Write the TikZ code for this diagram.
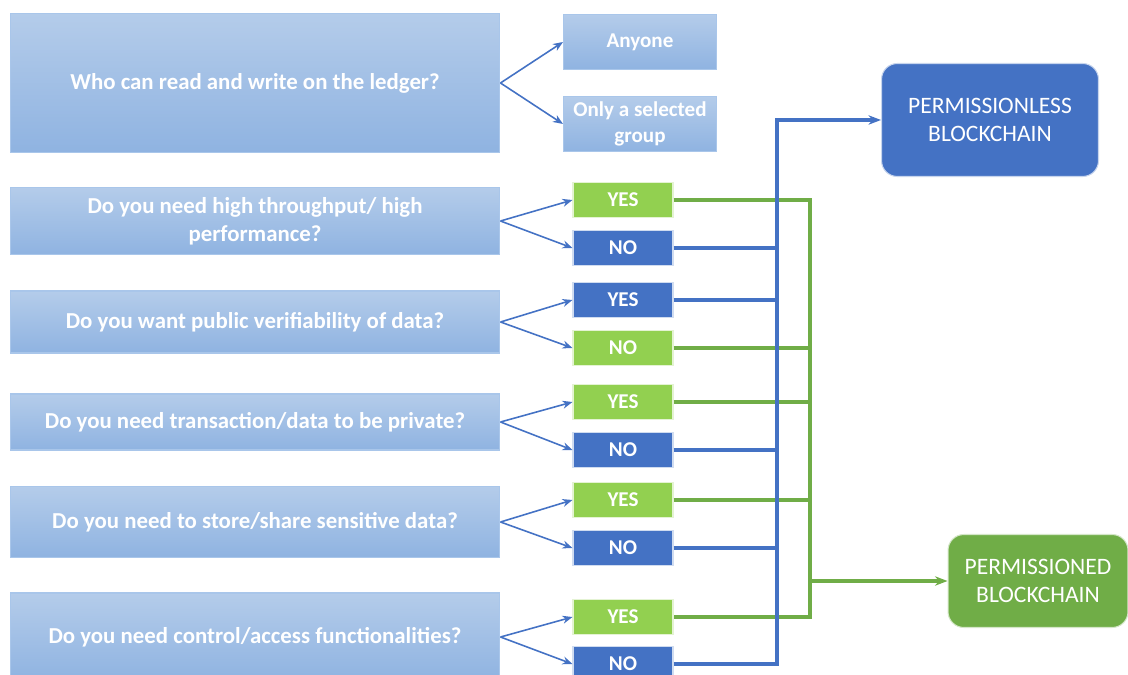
\documentclass[tikz,border=0pt]{standalone}
\usepackage{fontspec}
\setmainfont{Carlito}
\usetikzlibrary{arrows.meta, calc}
\definecolor{qtop}{HTML}{B4CCEA}
\definecolor{qbot}{HTML}{8FB3E1}
\definecolor{qedge}{HTML}{A9C6EA}
\definecolor{cblue}{HTML}{4472C4}
\definecolor{cgreen}{HTML}{70AD47}
\definecolor{clime}{HTML}{92D050}
\tikzset{
  every picture/.style={font=\fontsize{12}{14}\selectfont},
  qbox/.style={draw=qedge, line width=0.6pt, top color=qtop, bottom color=qbot, text=white, font=\bfseries\fontsize{13}{16}\selectfont, align=center, minimum width=9.8cm},
  abox/.style={qbox, font=\bfseries\fontsize{12}{14.5}\selectfont, minimum width=3.06cm, minimum height=1.1cm, inner sep=1pt},
  yn/.style={draw=white!75!#1, line width=0.6pt, fill=#1, text=white, font=\bfseries\fontsize{12}{14}\selectfont, minimum width=2cm, minimum height=0.7cm, inner sep=0pt},
  res/.style={fill=#1, draw=white!70!#1, line width=0.6pt, rounded corners=9pt, text=white, align=center, font=\fontsize{13.4}{16}\selectfont},
  arrow/.style={-{Stealth[length=2mm, width=1.6mm]}, draw=cblue, line width=0.9pt},
  bus/.style={draw=#1, line width=2pt},
}
\begin{document}
\begin{tikzpicture}[x=0.02cm, y=-0.02cm]
  \useasboundingbox (0,0) rectangle (1128,675);
  \clip (0,0) rectangle (1128,675);
  % questions
  \node[qbox, minimum height=2.78cm] (q1) at (255,83) {Who can read and write on the ledger?};
  \node[qbox, minimum height=1.34cm] (q2) at (255,221) {Do you need high throughput/ high\\performance?};
  \node[qbox, minimum height=1.24cm] (q3) at (255,322) {Do you want public verifiability of data?};
  \node[qbox, minimum height=1.12cm] (q4) at (255,422) {Do you need transaction/data to be private?};
  \node[qbox, minimum height=1.42cm] (q5) at (255,522) {Do you need to store/share sensitive data?};
  \node[qbox, minimum height=1.76cm] (q6) at (255,637) {Do you need control/access functionalities?};
  % answers
  \node[abox] (any) at (640,42) {Anyone};
  \node[abox, align=center] (grp) at (640,124) {Only a selected\\group};
  \node[yn=clime] (y2) at (623,200) {YES};
  \node[yn=cblue] (n2) at (623,248) {NO};
  \node[yn=cblue] (y3) at (623,300) {YES};
  \node[yn=clime] (n3) at (623,348) {NO};
  \node[yn=clime] (y4) at (623,402) {YES};
  \node[yn=cblue] (n4) at (623,450) {NO};
  \node[yn=clime] (y5) at (623,500) {YES};
  \node[yn=cblue] (n5) at (623,548) {NO};
  \node[yn=clime] (y6) at (623,617) {YES};
  \node[yn=cblue] (n6) at (623,664) {NO};
  % outcomes
  \node[res=cblue, minimum width=4.34cm, minimum height=2.26cm] (pl) at (990,120) {PERMISSIONLESS\\BLOCKCHAIN};
  \node[res=cgreen, minimum width=3.6cm, minimum height=1.86cm] (pd) at (1038,581) {PERMISSIONED\\BLOCKCHAIN};
  \coordinate (bt) at (777,120);
  \coordinate (gb) at (810,617);
  % splits
  \draw[arrow] (q1.east) -- (any.west);
  \draw[arrow] (q1.east) -- (grp.west);
  \foreach \i in {2,...,6} {
    \draw[arrow] (q\i.east) -- (y\i.west);
    \draw[arrow] (q\i.east) -- (n\i.west);
  }
  % green bus
  \draw[bus=cgreen] (y2.east) -| (gb) -- (y6.east);
  \foreach \n in {n3,y4,y5} \draw[bus=cgreen] (\n.east) -- (\n.east -| gb);
  \draw[bus=cgreen, -{Stealth[length=2.5mm]}] (gb |- pd.west) -- (pd.west);
  % blue bus
  \draw[bus=cblue, -{Stealth[length=2.5mm]}] (n6.east) -| (bt) -- (pl.west);
  \foreach \n in {n2,y3,n4,n5} \draw[bus=cblue] (\n.east) -- (\n.east -| bt);
\end{tikzpicture}
\end{document}
